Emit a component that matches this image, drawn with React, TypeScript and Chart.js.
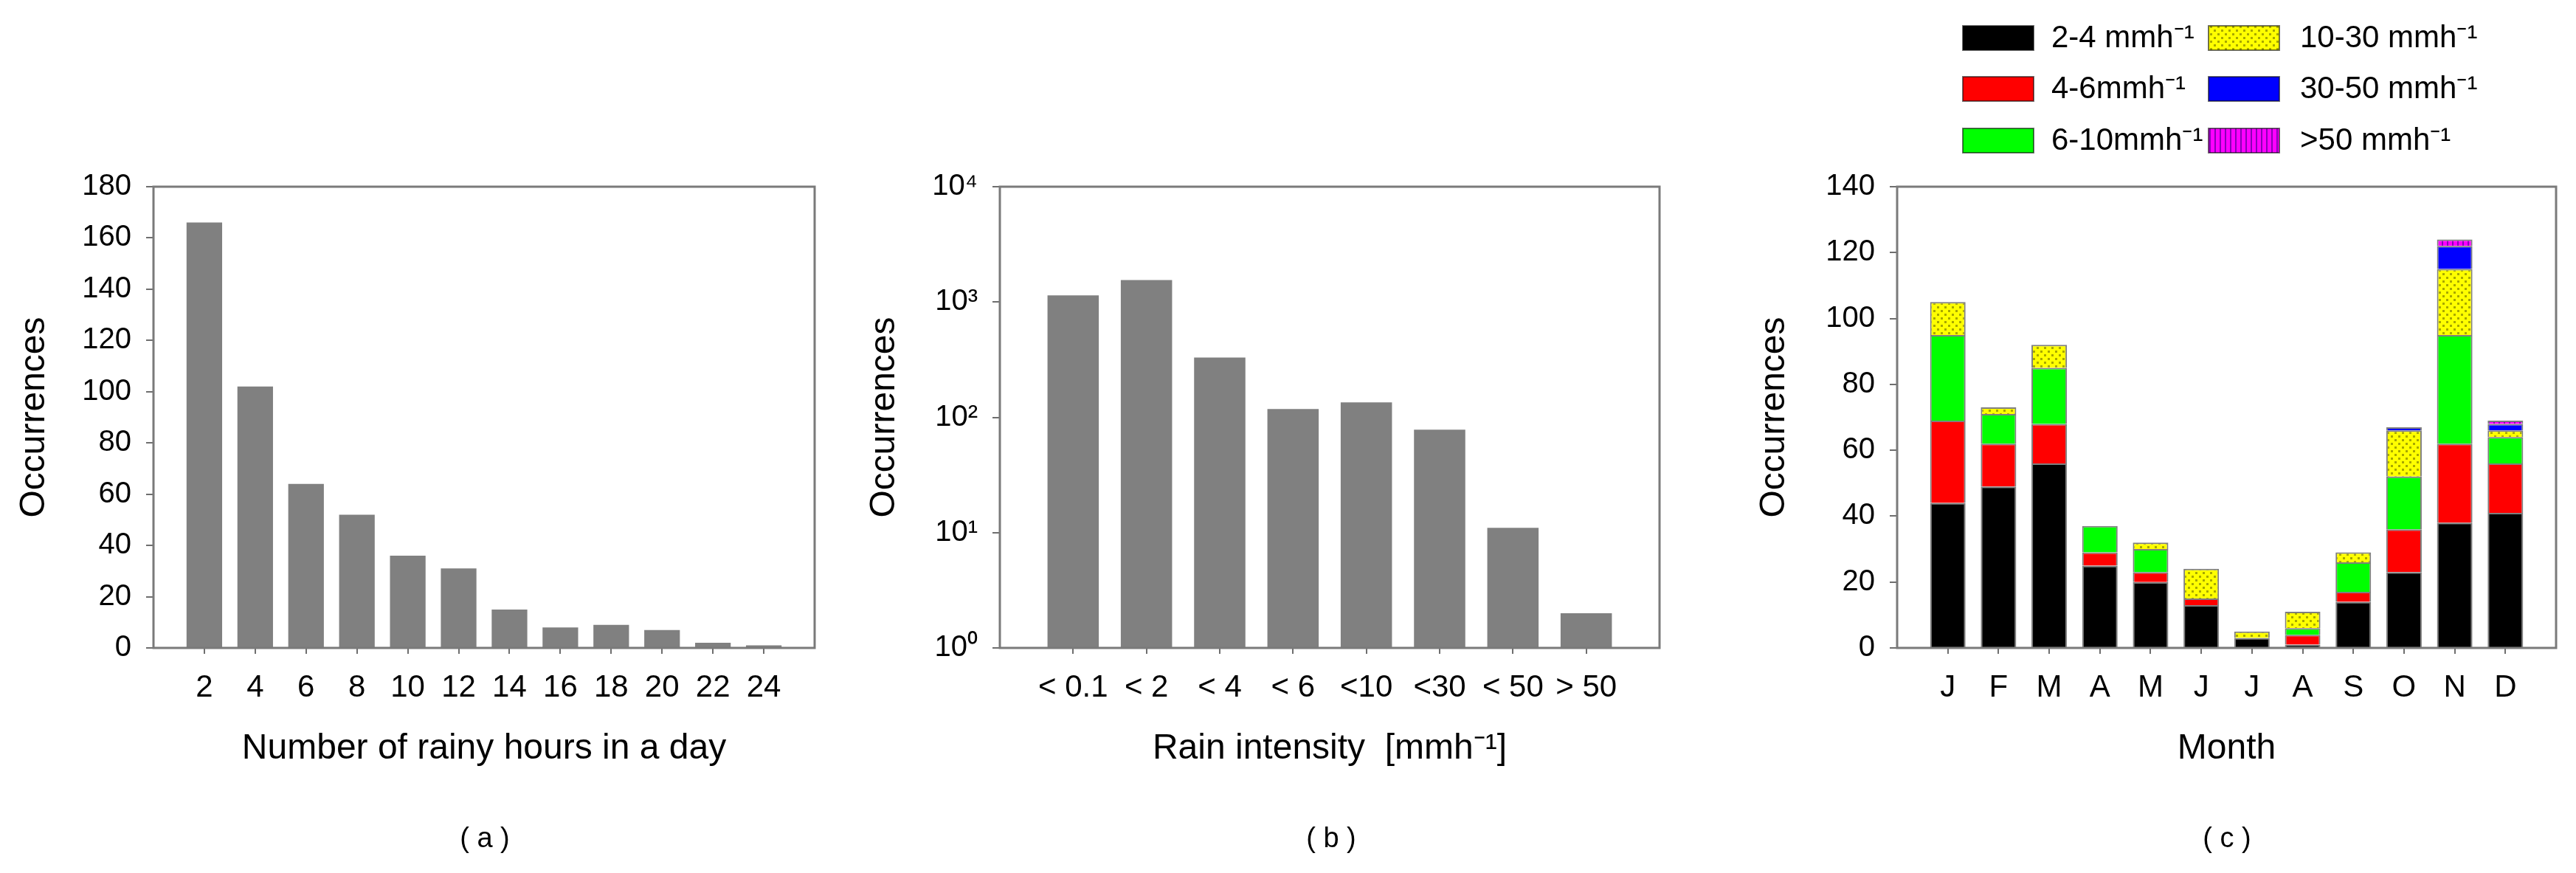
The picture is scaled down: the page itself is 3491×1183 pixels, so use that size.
import React, { useEffect, useRef } from 'react';
import { Chart, registerables } from 'chart.js';

Chart.register(...registerables);

const FONT = "'Liberation Sans', Arial, Helvetica, sans-serif";
const NARROW = "'Liberation Sans Narrow', 'Liberation Sans', Arial, sans-serif";

// ---------- (a) number of rainy hours in a day ----------
const hours = [2, 4, 6, 8, 10, 12, 14, 16, 18, 20, 22, 24];
const hourCounts = [166, 102, 64, 52, 36, 31, 15, 8, 9, 7, 2, 1];
const countTicksA = [0, 20, 40, 60, 80, 100, 120, 140, 160, 180];

// ---------- (b) rain intensity ----------
const intensityLabels = ['< 0.1', '< 2', '< 4', '< 6', '<10', '<30', '< 50', '> 50'];
const intensityCounts = [1140, 1550, 330, 118, 135, 78, 11, 2];
const logTicks = [1, 10, 100, 1000, 10000];
const logTickLabels = ['10\u2070', '10\u00B9', '10\u00B2', '10\u00B3', '10\u2074'];

// ---------- (c) monthly occurrences by intensity class ----------
const months = ['J', 'F', 'M', 'A', 'M', 'J', 'J', 'A', 'S', 'O', 'N', 'D'];
const seriesLabels = ['2-4 mmh\u207B\u00B9', '4-6mmh\u207B\u00B9', '6-10mmh\u207B\u00B9', '10-30 mmh\u207B\u00B9', '30-50 mmh\u207B\u00B9', '>50 mmh\u207B\u00B9'];
const s2to4 = [44, 49, 56, 25, 20, 13, 3, 1, 14, 23, 38, 41];
const s4to6 = [25, 13, 12, 4, 3, 2, 0, 3, 3, 13, 24, 15];
const s6to10 = [26, 9, 17, 8, 7, 0, 0, 2, 9, 16, 33, 8];
const s10to30 = [10, 2, 7, 0, 2, 9, 2, 5, 3, 14, 20, 2];
const s30to50 = [0, 0, 0, 0, 0, 0, 0, 0, 0, 1, 7, 2];
const sOver50 = [0, 0, 0, 0, 0, 0, 0, 0, 0, 0, 2, 1];
const countTicksC = [0, 20, 40, 60, 80, 100, 120, 140];

const panelTexts = ['( a )', '( b )', '( c )'];

const H = 1183;
const AXIS = '#6e6e6e';

const framePlugin = {
  id: 'frame',
  afterDraw(chart: any) {
    const { ctx, chartArea } = chart;
    const { left, top, right, bottom } = chartArea;
    ctx.save();
    ctx.strokeStyle = '#7a7a7a';
    ctx.lineWidth = 3;
    ctx.strokeRect(left, top, right - left, bottom - top);
    ctx.restore();
  },
};

const legendPlugin = {
  id: 'gridLegend',
  afterDraw(chart: any) {
    const ctx = chart.ctx;
    const boxX = [310, 643];
    const textX = [430, 767];
    const rowY = [51, 120, 190];
    ctx.save();
    chart.data.datasets.forEach((ds: any, i: number) => {
      const col = Math.floor(i / 3);
      const row = i % 3;
      const cy = rowY[row];
      ctx.fillStyle = ds.backgroundColor;
      ctx.fillRect(boxX[col], cy - 16, 96, 33);
      ctx.strokeStyle = 'rgba(0,0,0,0.55)';
      ctx.lineWidth = 2;
      ctx.strokeRect(boxX[col], cy - 16, 96, 33);
      ctx.fillStyle = '#000';
      ctx.font = `42px ${FONT}`;
      ctx.textBaseline = 'middle';
      ctx.textAlign = 'left';
      ctx.fillText(ds.label, textX[col], cy + 1);
    });
    ctx.restore();
  },
};

function xLinear(min: number, max: number, tickValues: number[], labelFor: (v: number) => string, title: string, stacked: boolean) {
  return {
    type: 'linear',
    min,
    max,
    offset: false,
    stacked,
    grid: { display: true, offset: false, drawOnChartArea: false, drawTicks: true, tickLength: 8, color: AXIS, lineWidth: 2 },
    border: { display: false },
    ticks: {
      autoSkip: false,
      maxRotation: 0,
      minRotation: 0,
      padding: 21,
      color: '#000',
      font: { family: FONT, size: 42 },
      callback: (v: any) => labelFor(Number(v)),
    },
    afterBuildTicks: (s: any) => {
      s.ticks = tickValues.map((v) => ({ value: v }));
    },
    afterFit: (s: any) => {
      s.height = H - 878;
    },
    title: {
      display: true,
      text: title,
      color: '#000',
      font: { family: FONT, size: 48 },
      padding: { top: 0, bottom: 139 },
    },
  };
}

function yScale(type: string, min: number, max: number, tickValues: number[], labelFor: (v: number) => string, titlePadTop: number, width: number, stacked: boolean) {
  return {
    type,
    min,
    max,
    stacked,
    grid: { display: true, drawOnChartArea: false, drawTicks: true, tickLength: 10, color: AXIS, lineWidth: 2 },
    border: { display: false },
    ticks: {
      autoSkip: false,
      padding: 20,
      color: '#000',
      font: { family: NARROW, size: 40 },
      callback: (v: any) => labelFor(Number(v)),
    },
    afterBuildTicks: (s: any) => {
      s.ticks = tickValues.map((v) => ({ value: v, major: true }));
    },
    afterFit: (s: any) => {
      s.width = width;
    },
    title: {
      display: true,
      text: 'Occurrences',
      color: '#000',
      font: { family: FONT, size: 48 },
      padding: { top: titlePadTop, bottom: 0 },
    },
  };
}

function makeYellowPattern(ctx: CanvasRenderingContext2D) {
  const c = document.createElement('canvas');
  c.width = 10;
  c.height = 10;
  const g = c.getContext('2d') as CanvasRenderingContext2D;
  g.fillStyle = '#ffff00';
  g.fillRect(0, 0, 10, 10);
  g.fillStyle = '#a8a800';
  g.fillRect(0, 0, 3, 3);
  g.fillRect(5, 5, 3, 3);
  return ctx.createPattern(c, 'repeat') as CanvasPattern;
}

function makeMagentaPattern(ctx: CanvasRenderingContext2D) {
  const c = document.createElement('canvas');
  c.width = 7;
  c.height = 7;
  const g = c.getContext('2d') as CanvasRenderingContext2D;
  g.fillStyle = '#ff00ff';
  g.fillRect(0, 0, 7, 7);
  g.fillStyle = '#8a00b8';
  g.fillRect(0, 0, 2, 7);
  return ctx.createPattern(c, 'repeat') as CanvasPattern;
}

const commonPlugins = { legend: { display: false }, tooltip: { enabled: false }, title: { display: false } };

export default function App() {
  const refA = useRef<HTMLCanvasElement>(null);
  const refB = useRef<HTMLCanvasElement>(null);
  const refC = useRef<HTMLCanvasElement>(null);

  useEffect(() => {
    const charts: Chart[] = [];

    // Panel (a)
    charts.push(
      new Chart(refA.current as HTMLCanvasElement, {
        type: 'bar',
        data: {
          datasets: [
            {
              data: hours.map((h, i) => ({ x: h, y: hourCounts[i] })),
              backgroundColor: '#808080',
              borderWidth: 0,
              barPercentage: 0.7,
              categoryPercentage: 1,
            },
          ],
        },
        options: {
          animation: false,
          responsive: false,
          layout: { padding: { left: 0, top: 253, right: 46, bottom: 0 } },
          plugins: commonPlugins,
          scales: {
            x: xLinear(0, 26, hours, (v) => String(v), 'Number of rainy hours in a day', false),
            y: yScale('linear', 0, 180, countTicksA, (v) => String(v), 18, 208, false),
          },
        } as any,
        plugins: [framePlugin],
      })
    );

    // Panel (b)
    const idxB = intensityLabels.map((_, i) => i + 1);
    charts.push(
      new Chart(refB.current as HTMLCanvasElement, {
        type: 'bar',
        data: {
          datasets: [
            {
              data: intensityCounts.map((v, i) => ({ x: i + 1, y: v })),
              backgroundColor: '#808080',
              borderWidth: 0,
              barPercentage: 0.7,
              categoryPercentage: 1,
            },
          ],
        },
        options: {
          animation: false,
          responsive: false,
          layout: { padding: { left: 0, top: 253, right: 51, bottom: 0 } },
          plugins: commonPlugins,
          scales: {
            x: xLinear(0, intensityLabels.length + 1, idxB, (v) => intensityLabels[v - 1] ?? '', 'Rain intensity  [mmh\u207B\u00B9]', false),
            y: yScale('logarithmic', 1, 10000, logTicks, (v) => logTickLabels[logTicks.indexOf(v)] ?? '', 20, 205, false),
          },
        } as any,
        plugins: [framePlugin],
      })
    );

    // Panel (c)
    const ctxC = (refC.current as HTMLCanvasElement).getContext('2d') as CanvasRenderingContext2D;
    const yellow = makeYellowPattern(ctxC);
    const magenta = makeMagentaPattern(ctxC);
    const series = [s2to4, s4to6, s6to10, s10to30, s30to50, sOver50];
    const fills: any[] = ['#000000', '#ff0000', '#00ff00', yellow, '#0000ff', magenta];
    const idxC = months.map((_, i) => i + 1);
    charts.push(
      new Chart(refC.current as HTMLCanvasElement, {
        type: 'bar',
        data: {
          datasets: series.map((vals, k) => ({
            label: seriesLabels[k],
            data: vals.map((v, i) => ({ x: i + 1, y: v })),
            backgroundColor: fills[k],
            borderColor: 'rgba(0,0,0,0.5)',
            borderWidth: 2,
            barPercentage: 0.7,
            categoryPercentage: 1,
          })),
        },
        options: {
          animation: false,
          responsive: false,
          layout: { padding: { left: 0, top: 253, right: 27, bottom: 0 } },
          plugins: commonPlugins,
          scales: {
            x: xLinear(0, months.length + 1, idxC, (v) => months[v - 1] ?? '', 'Month', true),
            y: yScale('linear', 0, 140, countTicksC, (v) => String(v), 26, 221, true),
          },
        } as any,
        plugins: [framePlugin, legendPlugin],
      })
    );

    return () => {
      charts.forEach((c) => c.destroy());
    };
  }, []);

  const labelStyle = (cx: number): React.CSSProperties => ({
    position: 'absolute',
    left: cx - 100,
    top: 1116,
    width: 200,
    textAlign: 'center',
    fontFamily: FONT,
    fontSize: 38,
    lineHeight: '38px',
    color: '#000',
    whiteSpace: 'pre',
  });

  return (
    <div
      style={{
        position: 'absolute',
        left: 0,
        top: 0,
        width: 3491,
        height: H,
        background: '#ffffff',
        overflow: 'hidden',
      }}
    >
      <canvas ref={refA} width={1150} height={H} style={{ position: 'absolute', left: 0, top: 0, width: 1150, height: H }} />
      <canvas ref={refB} width={1150} height={H} style={{ position: 'absolute', left: 1150, top: 0, width: 1150, height: H }} />
      <canvas ref={refC} width={1141} height={H} style={{ position: 'absolute', left: 2350, top: 0, width: 1141, height: H }} />
      <div style={labelStyle(657)}>{panelTexts[0]}</div>
      <div style={labelStyle(1804)}>{panelTexts[1]}</div>
      <div style={labelStyle(3018)}>{panelTexts[2]}</div>
    </div>
  );
}
